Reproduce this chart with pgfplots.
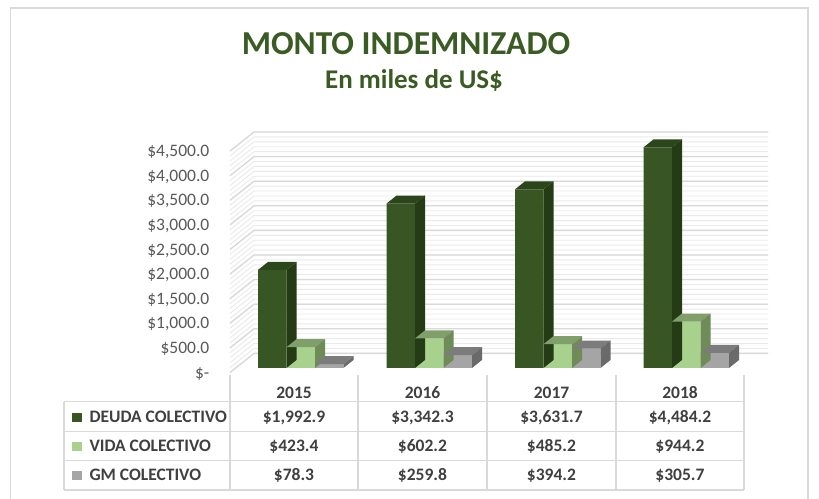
\documentclass[border=0pt]{standalone}
\usepackage{pgfplots}
\pgfplotsset{compat=1.18}
\usepackage{pgfplotstable}
\usepackage{fontspec}
\setmainfont{Carlito}
\definecolor{deudaF}{HTML}{375623}
\definecolor{deudaS}{HTML}{243B15}
\definecolor{deudaT}{HTML}{2C461B}
\definecolor{vidaF}{HTML}{A9D18E}
\definecolor{vidaS}{HTML}{6E8B58}
\definecolor{vidaT}{HTML}{809F6A}
\definecolor{gmF}{HTML}{A5A5A5}
\definecolor{gmS}{HTML}{6A6A6A}
\definecolor{gmT}{HTML}{7C7C7C}
\definecolor{titlegreen}{HTML}{3B5B24}
\definecolor{tickgrey}{HTML}{595959}
\definecolor{tabtext}{HTML}{404040}
\definecolor{tabline}{HTML}{D9D9D9}
\definecolor{gridmaj}{HTML}{D9D9D9}
\definecolor{gridmin}{HTML}{EAEAEA}

\pgfplotstableread{
x deuda vida gm
0 1992.9 423.4 78.3
1 3342.3 602.2 259.8
2 3631.7 485.2 394.2
3 4484.2 944.2 305.7
}\data

\newdimen\barH
\newdimen\barHb
% #1 name, #2 top colour, #3 side colour, #4 left x, #5 right x (bp numbers)
\newcommand\declarebox[5]{%
  \pgfdeclareplotmark{#1}{%
    \barH=0.0492bp \barH=\pgfplotspointmeta\barH
    \barHb=8bp \advance\barHb by -\barH
    \pgfsetfillcolor{#2}%
    \pgfpathmoveto{\pgfqpoint{#4bp}{0bp}}%
    \pgfpathlineto{\pgfqpoint{\dimexpr#4bp+10bp\relax}{8bp}}%
    \pgfpathlineto{\pgfqpoint{\dimexpr#5bp+10bp\relax}{8bp}}%
    \pgfpathlineto{\pgfqpoint{#5bp}{0bp}}%
    \pgfpathclose
    \pgfusepath{fill}%
    \pgfsetfillcolor{#3}%
    \pgfpathmoveto{\pgfqpoint{#5bp}{0bp}}%
    \pgfpathlineto{\pgfqpoint{\dimexpr#5bp+10bp\relax}{8bp}}%
    \pgfpathlineto{\pgfqpoint{\dimexpr#5bp+10bp\relax}{\barHb}}%
    \pgfpathlineto{\pgfqpoint{#5bp}{-\barH}}%
    \pgfpathclose
    \pgfusepath{fill}%
  }%
}
\declarebox{boxA}{deudaT}{deudaS}{-42.75}{-14.25}
\declarebox{boxB}{vidaT}{vidaS}{-14.25}{14.25}
\declarebox{boxC}{gmT}{gmS}{14.25}{42.75}

\pgfplotsset{
  face3d/.style={scatter, only marks, mark=#1,
    point meta=explicit symbolic,
    scatter/@pre marker code/.code={},
    scatter/@post marker code/.code={}},
}

\begin{document}
\begin{tikzpicture}
\useasboundingbox (0,0) rectangle (819bp,499bp);
\fill[white] (0,0) rectangle (819bp,499bp);
\draw[tabline, line width=1.2bp] (10.5bp,-20bp) rectangle (808bp,491bp);

\node[anchor=base, text=titlegreen, font=\fontsize{33.5bp}{40bp}\selectfont\bfseries] at (406bp,444bp) {MONTO INDEMNIZADO};
\node[anchor=base, text=titlegreen, font=\fontsize{27bp}{32bp}\selectfont\bfseries] at (414bp,410.7bp) {En miles de US\$};

\begin{axis}[
  at={(236.5bp,131bp)}, anchor=south west,
  scale only axis, width=514bp, height=221.4bp,
  xmin=-0.5, xmax=3.5, ymin=0, ymax=4500,
  clip=false,
  axis line style={draw=none},
  tick style={draw=none},
  major tick length=0pt,
  xtick=\empty,
  ytick={0,500,1000,1500,2000,2500,3000,3500,4000,4500},
  yticklabels={{\$-\hspace{7bp}},{\$500.0},{\$1,000.0},{\$1,500.0},{\$2,000.0},{\$2,500.0},{\$3,000.0},{\$3,500.0},{\$4,000.0},{\$4,500.0}},
  yticklabel style={anchor=east, inner sep=0pt, xshift=-27bp, yshift=-5.5bp,
    font=\fontsize{17.5bp}{21bp}\selectfont, text=tickgrey},
]
\pgfplotsinvokeforeach{0,100,...,4500}{
  \draw[gridmin, line width=0.9bp] ([shift={(-6.5bp,-4.5bp)}]axis cs:-0.5,#1) -- ([shift={(17.5bp,14.6bp)}]axis cs:-0.5,#1) -- ([shift={(17.5bp,14.6bp)}]axis cs:3.5,#1);
}
\pgfplotsinvokeforeach{0,500,...,4500}{
  \draw[gridmaj, line width=1.3bp] ([shift={(-6.5bp,-4.5bp)}]axis cs:-0.5,#1) -- ([shift={(17.5bp,14.6bp)}]axis cs:-0.5,#1) -- ([shift={(17.5bp,14.6bp)}]axis cs:3.5,#1);
}
\addplot[ybar, bar width=28.5bp, bar shift=-28.5bp, fill=deudaF, draw=none] table[x=x, y=deuda] {\data};
\addplot[face3d=boxA] table[x=x, y=deuda, meta=deuda] {\data};
\addplot[ybar, bar width=28.5bp, bar shift=0bp, fill=vidaF, draw=none] table[x=x, y=vida] {\data};
\addplot[face3d=boxB] table[x=x, y=vida, meta=vida] {\data};
\addplot[ybar, bar width=28.5bp, bar shift=28.5bp, fill=gmF, draw=none] table[x=x, y=gm] {\data};
\addplot[face3d=boxC] table[x=x, y=gm, meta=gm] {\data};
\end{axis}

% data table
\begin{scope}[tabline, line width=1.5bp]
\foreach \xx in {230,358,487,616,744} \draw (\xx bp,124bp) -- (\xx bp,9bp);
\draw (64bp,97.3bp) -- (64bp,9bp);
\foreach \yy in {97.3,67.3,38.3,9} \draw (64bp,\yy bp) -- (744bp,\yy bp);
\end{scope}
\begin{scope}[every node/.style={anchor=base, text=tabtext, font=\fontsize{17.5bp}{21bp}\selectfont\bfseries}]
\node at (294bp,100.8bp) {2015};
\node at (422.5bp,100.8bp) {2016};
\node at (551.5bp,100.8bp) {2017};
\node at (680bp,100.8bp) {2018};
\node at (294bp,76.8bp) {\$1,992.9};
\node at (422.5bp,76.8bp) {\$3,342.3};
\node at (551.5bp,76.8bp) {\$3,631.7};
\node at (680bp,76.8bp) {\$4,484.2};
\node at (294bp,47.3bp) {\$423.4};
\node at (422.5bp,47.3bp) {\$602.2};
\node at (551.5bp,47.3bp) {\$485.2};
\node at (680bp,47.3bp) {\$944.2};
\node at (294bp,18.1bp) {\$78.3};
\node at (422.5bp,18.1bp) {\$259.8};
\node at (551.5bp,18.1bp) {\$394.2};
\node at (680bp,18.1bp) {\$305.7};
\node[anchor=base west] at (86bp,76.8bp) {DEUDA COLECTIVO};
\node[anchor=base west] at (86bp,47.3bp) {VIDA COLECTIVO};
\node[anchor=base west] at (86bp,18.1bp) {GM COLECTIVO};
\end{scope}
\fill[deudaF] (72bp,77.3bp) rectangle (82bp,86.3bp);
\fill[vidaF] (72bp,47.8bp) rectangle (82bp,56.8bp);
\fill[gmF] (72bp,18.6bp) rectangle (82bp,27.6bp);
\end{tikzpicture}
\end{document}
